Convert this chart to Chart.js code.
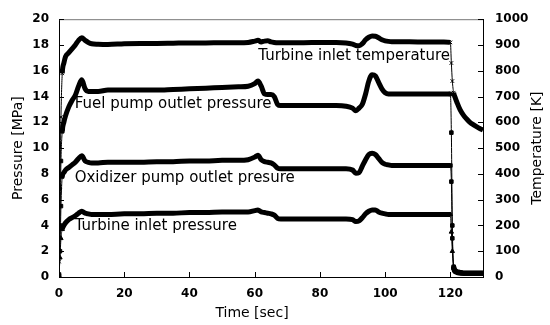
<!DOCTYPE html>
<html>
<head>
<meta charset="utf-8">
<script src="https://cdn.jsdelivr.net/npm/chart.js@4.4.0/dist/chart.umd.min.js"></script>
<style>
  body { margin: 0; background: #fff; }
  canvas { display: block; }
</style>
</head>
<body>
<canvas id="myChart" width="550" height="325"></canvas>
<script>
// time axis [sec]
const timeSec = [0, 0.3, 0.6, 1, 1.5, 2, 3, 4, 5, 6,
  7, 8, 9, 10, 12, 15, 20, 25, 30, 35,
  40, 45, 50, 55, 58, 60, 61, 62, 63, 64,
  65, 66, 67, 68, 70, 75, 80, 85, 88, 90,
  91, 92, 93, 94, 95, 96, 97, 98, 99, 100,
  101, 102, 105, 110, 115, 118, 120, 120.3, 120.6, 121,
  121.5, 122, 123, 124, 125, 126, 127, 128, 129, 130];

// Turbine inlet temperature [K] (right axis)
const turbineTemp = [60, 350, 620, 790, 830, 855, 870, 885, 900, 918,
  928, 918, 910, 905, 903, 902, 905, 906, 906, 907,
  908, 908, 909, 909, 910, 915, 918, 912, 915, 916,
  912, 910, 909, 909, 909, 909, 910, 910, 908, 903,
  898, 897, 905, 920, 930, 935, 934, 928, 920, 916,
  914, 913, 913, 912, 912, 912, 910, 830, 760, 715,
  695, 678, 648, 628, 613, 600, 591, 583, 576, 570];

// Fuel pump outlet pressure [MPa]
const fuelPump = [0.2, 4, 9, 11.3, 12.0, 12.5, 13.2, 13.7, 14.1, 14.8,
  15.3, 14.6, 14.4, 14.4, 14.4, 14.5, 14.5, 14.5, 14.5, 14.55,
  14.6, 14.65, 14.7, 14.75, 14.8, 15.0, 15.2, 14.8, 14.2, 14.15,
  14.15, 14.0, 13.4, 13.3, 13.3, 13.3, 13.3, 13.3, 13.25, 13.1,
  12.9, 13.1, 13.4, 14.2, 15.2, 15.7, 15.6, 15.1, 14.6, 14.3,
  14.2, 14.2, 14.2, 14.2, 14.2, 14.2, 14.2, 11.2, 4, 0.8,
  0.5, 0.4, 0.35, 0.3, 0.3, 0.3, 0.3, 0.3, 0.3, 0.3];

// Oxidizer pump outlet pressure [MPa]
const oxPump = [0.1, 2, 5.5, 7.8, 8.1, 8.3, 8.5, 8.7, 8.9, 9.2,
  9.4, 9.0, 8.9, 8.85, 8.85, 8.9, 8.9, 8.9, 8.95, 8.95,
  9.0, 9.0, 9.05, 9.05, 9.1, 9.3, 9.45, 9.1, 8.95, 8.9,
  8.85, 8.7, 8.45, 8.4, 8.4, 8.4, 8.4, 8.4, 8.4, 8.3,
  8.05, 8.1, 8.6, 9.1, 9.5, 9.6, 9.5, 9.2, 8.9, 8.75,
  8.7, 8.65, 8.65, 8.65, 8.65, 8.65, 8.65, 7.4, 3, 0.7,
  0.4, 0.35, 0.3, 0.3, 0.3, 0.3, 0.3, 0.3, 0.3, 0.3];

// Turbine inlet pressure [MPa]
const turbinePress = [0.1, 1.5, 3.0, 3.7, 4.0, 4.2, 4.45, 4.6, 4.75, 4.95,
  5.1, 4.95, 4.9, 4.85, 4.85, 4.85, 4.9, 4.9, 4.95, 4.95,
  5.0, 5.0, 5.05, 5.05, 5.05, 5.15, 5.2, 5.05, 5.0, 4.95,
  4.9, 4.8, 4.55, 4.5, 4.5, 4.5, 4.5, 4.5, 4.5, 4.45,
  4.3, 4.35, 4.6, 4.9, 5.1, 5.2, 5.2, 5.05, 4.95, 4.9,
  4.85, 4.85, 4.85, 4.85, 4.85, 4.85, 4.85, 3.5, 2.0, 0.8,
  0.5, 0.4, 0.35, 0.3, 0.3, 0.3, 0.3, 0.3, 0.3, 0.3];

// text notes in the plot (time, pressure units)
const noteTexts = ["Turbine inlet temperature", "Fuel pump outlet pressure",
  "Oxidizer pump outlet presure", "Turbine inlet pressure"];
const noteTime = [61.1, 4.8, 4.8, 4.8];
const notePress = [17.17, 13.4, 7.7, 3.95];

const FONT = "'DejaVu Sans', sans-serif";
Chart.defaults.font.family = FONT;
Chart.defaults.color = "#000";

function pts(vals) {
  return timeSec.map((t, i) => ({ x: t, y: vals[i] }));
}
function transient(t) {
  return t <= 1 || (t >= 120 && t <= 121);
}
function makeSet(label, vals, axis, style) {
  return {
    label,
    data: pts(vals),
    yAxisID: axis,
    borderColor: "#000",
    backgroundColor: "#000",
    borderWidth: 5,
    cubicInterpolationMode: "monotone",
    pointStyle: style,
    pointRadius: (c) => transient(timeSec[c.dataIndex]) ? 2.5 : 0,
    pointBorderWidth: 1,
    segment: {
      borderWidth: (c) =>
        (timeSec[c.p1DataIndex] <= 1 ||
         (timeSec[c.p0DataIndex] >= 120 && timeSec[c.p1DataIndex] <= 121)) ? 1 : 5,
    },
  };
}

const frame = {
  id: "frame",
  afterDraw(chart) {
    const { ctx, chartArea: a, scales } = chart;
    ctx.save();
    ctx.lineWidth = 1;
    ctx.strokeStyle = "#777";
    ctx.beginPath();
    ctx.moveTo(a.left, a.top + 0.5);
    ctx.lineTo(a.right, a.top + 0.5);
    ctx.stroke();

    // inward tick marks
    ctx.strokeStyle = "#000";
    ctx.beginPath();
    scales.x.ticks.forEach((t) => {
      const px = Math.round(scales.x.getPixelForValue(t.value)) + 0.5;
      ctx.moveTo(px, a.bottom);
      ctx.lineTo(px, a.bottom - 5);
    });
    scales.y.ticks.forEach((t) => {
      const py = Math.round(scales.y.getPixelForValue(t.value)) + 0.5;
      ctx.moveTo(a.left, py);
      ctx.lineTo(a.left + 5, py);
    });
    scales.y1.ticks.forEach((t) => {
      const py = Math.round(scales.y1.getPixelForValue(t.value)) + 0.5;
      ctx.moveTo(a.right, py);
      ctx.lineTo(a.right - 5, py);
    });
    ctx.stroke();

    // notes
    ctx.fillStyle = "#000";
    ctx.font = "15px " + FONT;
    ctx.textAlign = "left";
    ctx.textBaseline = "middle";
    noteTexts.forEach((txt, i) => {
      ctx.fillText(txt, scales.x.getPixelForValue(noteTime[i]),
        scales.y.getPixelForValue(notePress[i]));
    });

    // axis titles
    ctx.font = "14px " + FONT;
    ctx.textAlign = "center";
    ctx.fillText("Time [sec]", 252, 313);
    const cy = (a.top + a.bottom) / 2;
    ctx.save();
    ctx.translate(18, cy);
    ctx.rotate(-Math.PI / 2);
    ctx.fillText("Pressure [MPa]", 0, 0);
    ctx.restore();
    ctx.save();
    ctx.translate(537, cy);
    ctx.rotate(-Math.PI / 2);
    ctx.fillText("Temperature [K]", 0, 0);
    ctx.restore();
    ctx.restore();
  },
};

const tickFont = { family: FONT, size: 12, weight: "bold" };

new Chart(document.getElementById("myChart"), {
  type: "line",
  data: {
    datasets: [
      makeSet("Turbine inlet temperature", turbineTemp, "y1", "crossRot"),
      makeSet("Fuel pump outlet pressure", fuelPump, "y", "rect"),
      makeSet("Oxidizer pump outlet presure", oxPump, "y", "rect"),
      makeSet("Turbine inlet pressure", turbinePress, "y", "triangle"),
    ],
  },
  options: {
    responsive: false,
    animation: false,
    layout: { padding: { top: 15, left: 0, right: 0, bottom: 0 } },
    plugins: { legend: { display: false }, tooltip: { enabled: false } },
    scales: {
      x: {
        type: "linear",
        min: 0,
        max: 130,
        grid: { display: false, drawTicks: false },
        border: { display: true, color: "#000", width: 1 },
        ticks: { stepSize: 20, font: tickFont, padding: 10, maxRotation: 0,
          callback: (v) => String(v) },
        afterBuildTicks: (s) => { s.ticks = s.ticks.filter((t) => t.value <= 120); },
        afterFit: (s) => { s.height = 48; },
      },
      y: {
        position: "left",
        min: 0,
        max: 20,
        grid: { display: false, drawTicks: false },
        border: { display: true, color: "#000", width: 1 },
        ticks: { stepSize: 2, font: tickFont, padding: 10, callback: (v) => String(v) },
        afterFit: (s) => { s.width = 59; },
      },
      y1: {
        position: "right",
        min: 0,
        max: 1000,
        grid: { display: false, drawTicks: false },
        border: { display: true, color: "#000", width: 1 },
        ticks: { stepSize: 100, font: tickFont, padding: 12, callback: (v) => String(v) },
        afterFit: (s) => { s.width = 67; },
      },
    },
  },
  plugins: [frame],
});
</script>
</body>
</html>
